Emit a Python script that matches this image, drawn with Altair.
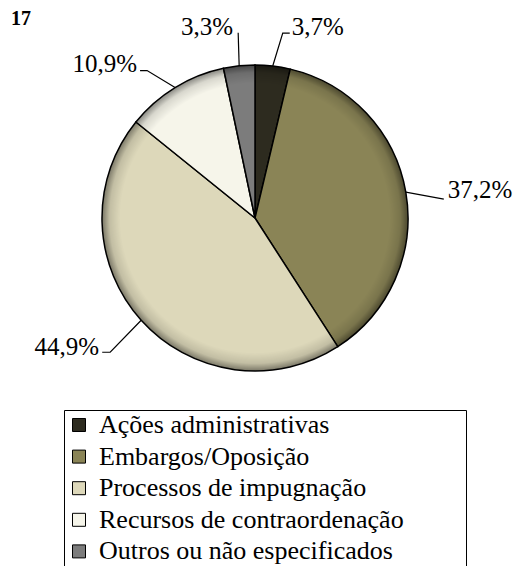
import math
import altair as alt
import pandas as pd

# ---------------- data ----------------
categories = [
    "Ações administrativas",
    "Embargos/Oposição",
    "Processos de impugnação",
    "Recursos de contraordenação",
    "Outros ou não especificados",
]
values = [3.7, 37.2, 44.9, 10.9, 3.3]
colors = ["#2d2b1f", "#8a8456", "#ddd8ba", "#f6f5ea", "#7c7c7c"]
corner_text = ["17"]

labels = [f"{v:.1f}".replace(".", ",") + "%" for v in values]

# ---------------- layout / style ----------------
CX, CY, R = 247, 210, 153
FONT = "Liberation Serif"
# label placement relative to the slice's edge point (style only)
label_style = [
    dict(align="left", text=(19, -31), path=[(10, -33), (17, -33)]),
    dict(align="left", text=(42, 6), path=[(38, 7)]),
    dict(align="right", text=(-42, 35), path=[(-31, 32), (-39, 32)]),
    dict(align="right", text=(-38, -16), path=[(-28, -17), (-35, -17)]),
    dict(align="right", text=(-6, -31), path=[(-1, -33)]),
]

total = sum(values)
pie_rows, line_rows, lab_rows = [], [], []
cum = 0.0
for i, (c, v, lab) in enumerate(zip(categories, values, labels)):
    pie_rows.append({"idx": i, "category": c, "value": v})
    a = 2 * math.pi * (cum + v / 2) / total
    cum += v
    ex, ey = CX + R * math.sin(a), CY - R * math.cos(a)
    st = label_style[i]
    line_rows.append({"category": c, "step": 0, "x": ex, "y": ey})
    for k, (dx, dy) in enumerate(st["path"]):
        line_rows.append({"category": c, "step": k + 1, "x": ex + dx, "y": ey + dy})
    lab_rows.append({"category": c, "label": lab, "align": st["align"],
                     "tx": ex + st["text"][0], "ty": ey + st["text"][1]})

pie_df = pd.DataFrame(pie_rows)
line_df = pd.DataFrame(line_rows)
lab_df = pd.DataFrame(lab_rows)

legend = alt.Legend(
    orient="none", legendX=56, legendY=402, direction="vertical",
    title="\u00a0", titleOrient="right", titleFontSize=8, titlePadding=60,
    symbolType="square", symbolSize=169, symbolStrokeColor="black",
    symbolStrokeWidth=1, symbolOpacity=1,
    labelFont=FONT, labelFontSize=26, labelColor="black", labelOffset=7,
    labelLimit=500, rowPadding=5.6, padding=2,
    strokeColor="black", fillColor="white",
)

pie = alt.Chart(pie_df).mark_arc(
    outerRadius=R, stroke="black", strokeWidth=1.5
).encode(
    theta=alt.Theta("value:Q", stack=True),
    color=alt.Color("category:N", sort=categories,
                    scale=alt.Scale(domain=categories, range=colors),
                    legend=legend),
    order=alt.Order("idx:Q"),
    x=alt.value(CX), y=alt.value(CY),
)

shade = alt.Chart(pd.DataFrame({"k": [1]})).mark_arc(
    outerRadius=R, theta=0, theta2=2 * math.pi, strokeWidth=0,
    fill=alt.RadialGradient(
        gradient="radial", x1=0.5, y1=0.5, r1=0, x2=0.5, y2=0.5, r2=0.5,
        stops=[
            alt.GradientStop(offset=0, color="rgba(0,0,0,0)"),
            alt.GradientStop(offset=0.88, color="rgba(0,0,0,0)"),
            alt.GradientStop(offset=0.95, color="rgba(0,0,0,0.12)"),
            alt.GradientStop(offset=1, color="rgba(0,0,0,0.45)"),
        ],
    ),
).encode(x=alt.value(CX), y=alt.value(CY))

lines = alt.Chart(line_df).mark_line(color="black", strokeWidth=1.2).encode(
    x=alt.X("x:Q", scale=None, axis=None),
    y=alt.Y("y:Q", scale=None, axis=None),
    detail="category:N",
    order="step:Q",
)

def text_layer(align):
    return alt.Chart(lab_df[lab_df["align"] == align]).mark_text(
        align=align, baseline="alphabetic", font=FONT, fontSize=25, color="black"
    ).encode(
        x=alt.X("tx:Q", scale=None, axis=None),
        y=alt.Y("ty:Q", scale=None, axis=None),
        text="label:N",
    )

corner = alt.Chart(pd.DataFrame({"t": corner_text})).mark_text(
    align="left", baseline="alphabetic", font=FONT, fontSize=20,
    fontWeight="bold", color="black"
).encode(x=alt.value(3), y=alt.value(17), text="t:N")

chart = alt.layer(pie, shade, lines, text_layer("left"), text_layer("right"), corner).properties(
    width=505, height=558, padding=0, autosize="none", background="white"
).configure_view(stroke=None)

chart.save("out.html", embed_options={"renderer": "svg", "actions": False})
